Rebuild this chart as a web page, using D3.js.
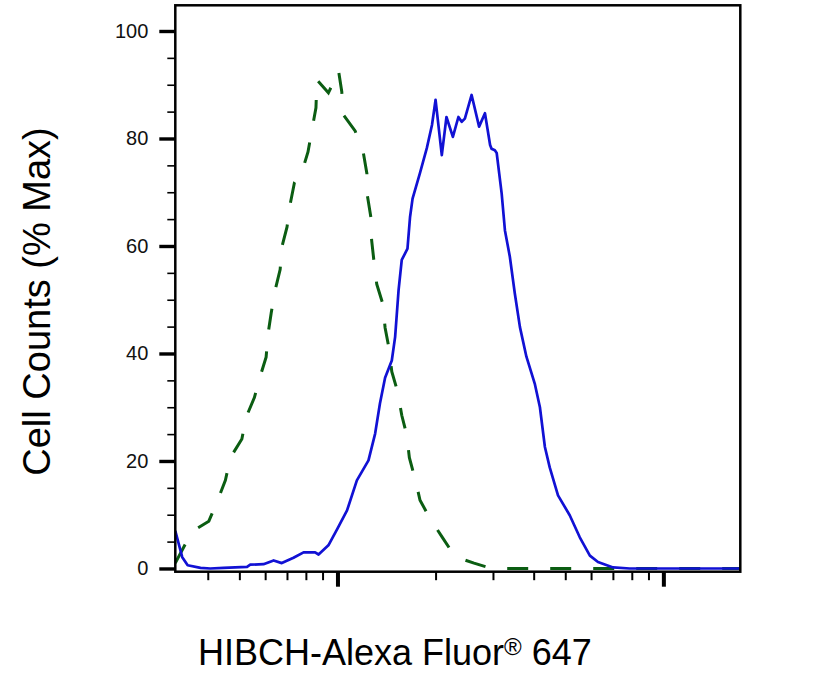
<!DOCTYPE html>
<html>
<head>
<meta charset="utf-8">
<script src="https://cdn.jsdelivr.net/npm/d3@7/dist/d3.min.js"></script>
<style>
  html, body { margin: 0; padding: 0; background: #fff; }
  svg { display: block; font-family: 'Liberation Sans', Arial, sans-serif; }
  .tick text { font-family: 'Liberation Sans', Arial, sans-serif; }
</style>
</head>
<body>
<div id="chart"></div>
<script>
'use strict';

// fluorescence intensity (log axis) and % of max for the stained sample
var stainedX = [31.8, 33.4, 34.7, 38, 40.7, 44.7, 52.8, 54, 59.3, 63.7, 67.5, 73.3, 78.7, 85.4, 87.5, 93.8,
  100, 107, 114.7, 124.5, 130.5, 135, 140, 146.8, 150.3, 154, 157.5, 164, 167, 170, 179, 188, 195, 200,
  209, 216, 226, 235, 240.5, 246, 258, 272, 283.5, 294, 297, 304, 308, 313.5, 319, 326.5, 338, 350, 363,
  380, 403, 418, 433, 448, 475, 516, 554, 595, 630, 701, 788, 1000, 1722];
var stainedY = [7.0, 2.1, 0.6, 0.1, 0, 0.1, 0.3, 0.7, 0.8, 1.5, 1.0, 2.0, 3.0, 3.0, 2.6, 4.3,
  7.4, 10.8, 16.4, 20.1, 25.1, 30.7, 35.5, 38.7, 43.1, 51.8, 57.4, 59.5, 65.4, 68.8, 73.5, 78.2, 82.5, 87.2,
  76.9, 84.0, 80.3, 84.0, 83.1, 83.7, 88.1, 82.2, 84.7, 78.8, 78.1, 77.8, 77.3, 73.5, 69.8, 62.9, 58.0, 51.2, 44.9,
  39.4, 34.4, 30.0, 22.6, 18.8, 13.6, 9.9, 5.8, 2.4, 1.2, 0.2, 0, 0, 0];

// isotype / unstained control (dashed)
var controlX = [31.8, 35.8, 40.3, 42.9, 45.3, 46.9, 50.9, 52.5, 55.6, 57.7, 60.4, 61.3, 62.6, 64.4, 66.7, 67.5,
  70.0, 71.6, 73.8, 77.8, 81.2, 83.5, 85.9, 86.5, 93.8, 99.6, 100.7, 103.1, 104.3, 113.3, 120.1, 123.1,
  123.6, 126.6, 127.3, 129.5, 132.0, 137.8, 140.0, 144.0, 146.8, 153.1, 157.5, 163.2, 166.2, 173.0, 179.2,
  192.3, 210.3, 229.4, 262.4, 297, 1722];
var controlY = [1.0, 6.9, 8.8, 12.7, 16.4, 20.6, 24.1, 28.2, 31.8, 35.4, 39.3, 43.8, 47.5, 51.8, 55.6, 59.8,
  63.5, 67.8, 71.8, 73.8, 77.5, 81.6, 85.7, 90.9, 88.5, 91.8, 92.7, 88.7, 84.4, 81.4, 77.3, 73.5,
  69.3, 65.4, 61.1, 57.0, 52.9, 49.2, 44.8, 40.9, 36.6, 32.8, 28.5, 24.8, 20.6, 16.7, 12.7,
  9.3, 5.7, 2.2, 1.0, 0, 0];

var yMajorTicks = [0, 20, 40, 60, 80, 100];
var yMinorTicks = [5, 10, 15, 25, 30, 35, 45, 50, 55, 65, 70, 75, 85, 90, 95];
var xMajorTicks = [100, 1000];
var xMinorTicks = [40, 50, 60, 70, 80, 90, 200, 300, 400, 500, 600, 700, 800, 900];

var xTitle = 'HIBCH-Alexa Fluor';
var xTitleMark = '\u00AE';
var xTitleEnd = ' 647';
var yTitle = 'Cell Counts (% Max)';

var width = 813;
var height = 679;
var plot = { left: 175.3, top: 5.3, right: 740.3, bottom: 571.7 };

var svg = d3.select('#chart').append('svg')
  .attr('width', width)
  .attr('height', height);

var x = d3.scaleLog()
  .domain([31.8, 1722])
  .range([plot.left, plot.right]);

var y = d3.scaleLinear()
  .domain([-0.6, 104.78])
  .range([plot.bottom, plot.top]);

svg.append('clipPath').attr('id', 'plot-clip')
  .append('rect')
  .attr('x', plot.left)
  .attr('y', plot.top)
  .attr('width', plot.right - plot.left)
  .attr('height', plot.bottom - plot.top);

function toPoints(xs, ys) {
  return xs.map(function (d, i) { return [d, ys[i]]; });
}

var line = d3.line()
  .x(function (d) { return x(d[0]); })
  .y(function (d) { return y(d[1]); });

var curves = svg.append('g').attr('clip-path', 'url(#plot-clip)');

curves.append('path')
  .datum(toPoints(controlX, controlY))
  .attr('d', line)
  .attr('fill', 'none')
  .attr('stroke', '#0b5d12')
  .attr('stroke-width', 3)
  .attr('stroke-dasharray', '21,22');

curves.append('path')
  .datum(toPoints(stainedX, stainedY))
  .attr('d', line)
  .attr('fill', 'none')
  .attr('stroke', '#1111d4')
  .attr('stroke-width', 2.7)
  .attr('stroke-linejoin', 'round');

// y axis: long thick majors with labels, short thin minors
var yMajor = svg.append('g')
  .attr('transform', 'translate(' + plot.left + ',0)')
  .call(d3.axisLeft(y).tickValues(yMajorTicks).tickSize(16).tickPadding(11));
yMajor.select('.domain').remove();
yMajor.selectAll('.tick line').attr('stroke-width', 3.4);
yMajor.selectAll('.tick text')
  .attr('font-size', 20)
  .attr('fill', '#111');

var yMinor = svg.append('g')
  .attr('transform', 'translate(' + plot.left + ',0)')
  .call(d3.axisLeft(y).tickValues(yMinorTicks).tickSize(8).tickFormat(''));
yMinor.select('.domain').remove();
yMinor.selectAll('.tick line').attr('stroke-width', 1.6);

// x axis: no labels, only decade and sub-decade ticks
var xMajor = svg.append('g')
  .attr('transform', 'translate(0,' + plot.bottom + ')')
  .call(d3.axisBottom(x).tickValues(xMajorTicks).tickSize(15).tickFormat(''));
xMajor.select('.domain').remove();
xMajor.selectAll('.tick line').attr('stroke-width', 4);

var xMinor = svg.append('g')
  .attr('transform', 'translate(0,' + plot.bottom + ')')
  .call(d3.axisBottom(x).tickValues(xMinorTicks).tickSize(8.5).tickFormat(''));
xMinor.select('.domain').remove();
xMinor.selectAll('.tick line').attr('stroke-width', 2);

// frame
svg.append('rect')
  .attr('x', plot.left)
  .attr('y', plot.top)
  .attr('width', plot.right - plot.left)
  .attr('height', plot.bottom - plot.top)
  .attr('fill', 'none')
  .attr('stroke', '#000')
  .attr('stroke-width', 2.5);

// titles
var xt = svg.append('text')
  .attr('x', 198)
  .attr('y', 665)
  .attr('font-size', 36)
  .attr('fill', '#000');
xt.append('tspan').text(xTitle);
xt.append('tspan').attr('font-size', 24).attr('dy', -10).text(xTitleMark);
xt.append('tspan').attr('dy', 10).text(xTitleEnd);

svg.append('text')
  .attr('transform', 'translate(50,301.5) rotate(-90)')
  .attr('text-anchor', 'middle')
  .attr('font-size', 38)
  .attr('fill', '#000')
  .text(yTitle);
</script>
</body>
</html>
